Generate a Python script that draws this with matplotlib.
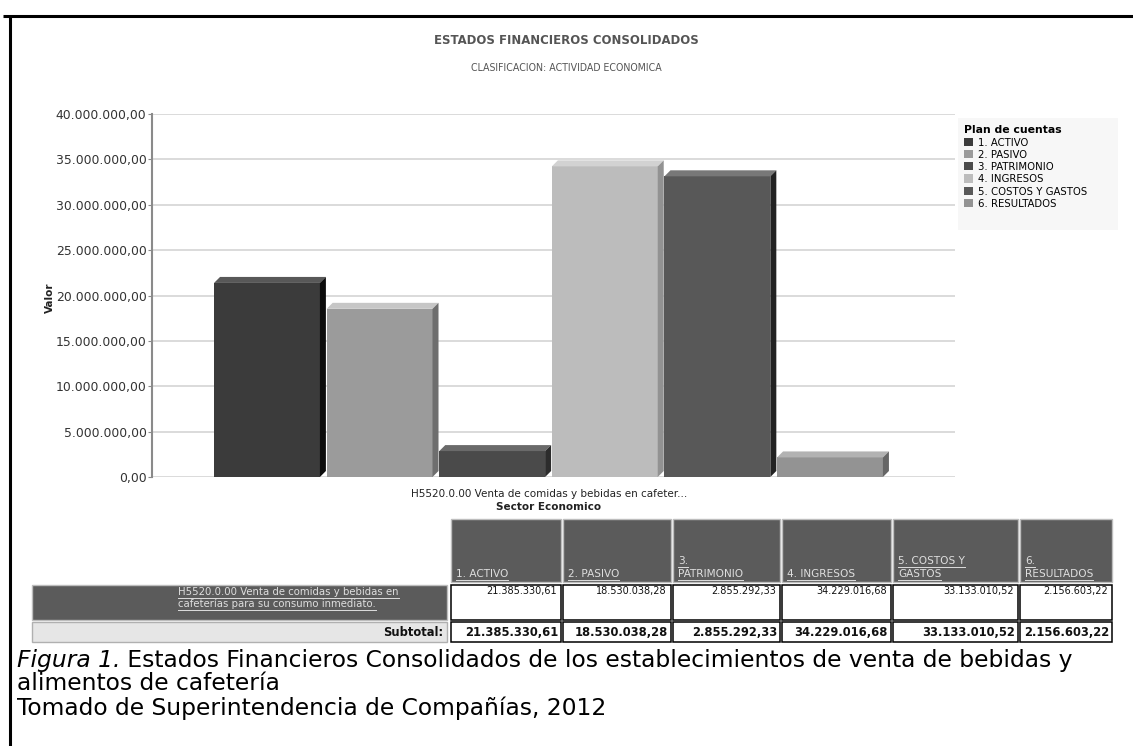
import matplotlib
matplotlib.use("Agg")
import matplotlib.pyplot as plt
from matplotlib.patches import Patch, Polygon, Rectangle
from matplotlib.ticker import FuncFormatter, MultipleLocator

# Datos (Superintendencia de Compañías, 2012)
cuentas = ["1. ACTIVO", "2. PASIVO", "3. PATRIMONIO", "4. INGRESOS",
           "5. COSTOS Y GASTOS", "6. RESULTADOS"]
encabezados = ["1. ACTIVO", "2. PASIVO", "3.\nPATRIMONIO", "4. INGRESOS",
               "5. COSTOS Y\nGASTOS", "6.\nRESULTADOS"]
valores = [21385330.61, 18530038.28, 2855292.33, 34229016.68,
           33133010.52, 2156603.22]
sector = "H5520.0.00 Venta de comidas y bebidas en cafeterías para su consumo inmediato."
sector_corto = "H5520.0.00 Venta de comidas y bebidas en cafeter..."

c_frente = ["#3b3b3b", "#9b9b9b", "#4a4a4a", "#bcbcbc", "#585858", "#939393"]
c_lado = ["#0c0c0c", "#6e6e6e", "#2c2c2c", "#929292", "#222222", "#666666"]
c_tapa = ["#585858", "#c6c6c6", "#6a6a6a", "#d2d2d2", "#787878", "#b2b2b2"]

W, H = 1133, 746


def fmt_num(v, pos=None):
    s = f"{v:,.2f}"
    return s.replace(",", "#").replace(".", ",").replace("#", ".")


fig = plt.figure(figsize=(W / 100, H / 100), dpi=100)
fig.patch.set_facecolor("white")

# capa en pixeles para marco, tabla y pie
lay = fig.add_axes([0, 0, 1, 1])
lay.set_xlim(0, W)
lay.set_ylim(H, 0)
lay.axis("off")

lay.plot([3, W], [16, 16], color="black", lw=2.2, solid_capstyle="butt")
lay.plot([10, 10], [16, H], color="black", lw=2.2, solid_capstyle="butt")

lay.text(566, 40, "ESTADOS FINANCIEROS CONSOLIDADOS", ha="center", va="center",
         fontsize=9.4, fontweight="bold", color="#555555", fontstretch="condensed")
lay.text(566, 68, "CLASIFICACION: ACTIVIDAD ECONOMICA", ha="center", va="center",
         fontsize=7.6, color="#555555", fontstretch="condensed")

# grafico de barras
ax = fig.add_axes([152 / W, (H - 477) / H, (955 - 152) / W, (477 - 114) / H])
ax.set_zorder(2)
ax.patch.set_alpha(0)
n = len(valores)
xs = list(range(n))
ancho = 0.94
ax.set_xlim(-1.021, 6.11)
ax.set_ylim(0, 40000000)
ax.yaxis.set_major_locator(MultipleLocator(5000000))
ax.yaxis.set_major_formatter(FuncFormatter(fmt_num))
ax.grid(axis="y", color="#dadada", lw=1.4)
ax.set_axisbelow(True)
for s in ["top", "right", "bottom"]:
    ax.spines[s].set_visible(False)
ax.spines["left"].set_color("#8a8a8a")
ax.spines["left"].set_linewidth(1.5)
ax.tick_params(axis="y", length=3, color="#8a8a8a", labelsize=8.9,
               labelcolor="#333333", pad=1)
ax.tick_params(axis="x", bottom=False, labelbottom=False)

ax.bar(xs, valores, width=ancho, color=c_frente, zorder=3)

# efecto 3D: profundidad en pixeles convertida a datos
fig.canvas.draw()
(x0p, y0p), (x1p, y1p) = ax.transData.transform([(0, 0), (1, 1e6)])
dx = 6 / (x1p - x0p)
dy = 6 / (y1p - y0p) * 1e6
for i, v in enumerate(valores):
    l, r = xs[i] - ancho / 2, xs[i] + ancho / 2
    ax.add_patch(Polygon([(l, v), (l + dx, v + dy), (r + dx, v + dy), (r, v)],
                         closed=True, facecolor=c_tapa[i], edgecolor="none", zorder=3))
    ax.add_patch(Polygon([(r, 0), (r + dx, dy), (r + dx, v + dy), (r, v)],
                         closed=True, facecolor=c_lado[i], edgecolor="none", zorder=3))

lay.text(50, 298, "Valor", rotation=90, ha="center", va="center",
         fontsize=7.5, fontweight="bold", color="#222222")
lay.text(549, 494, sector_corto, ha="center", va="center", fontsize=7.5,
         color="#222222")
lay.text(549, 507, "Sector Economico", ha="center", va="center", fontsize=7.5,
         fontweight="bold", color="#222222")

# leyenda con fondo gris claro
lay.add_patch(Rectangle((958, 118), 160, 112, facecolor="#f7f7f7",
                        edgecolor="none"))
leg = fig.legend(handles=[Patch(facecolor=c) for c in c_frente], labels=cuentas,
                 title="Plan de cuentas", loc="upper left",
                 bbox_to_anchor=(962 / W, 1 - 123 / H),
                 title_fontproperties={"size": 7.8, "weight": "bold"},
                 prop={"size": 8.1, "stretch": "condensed"},
                 alignment="left", frameon=False,
                 handlelength=0.75, handleheight=0.75, handletextpad=0.45,
                 labelspacing=0.2, borderpad=0.2, borderaxespad=0)

# tabla
rend = fig.canvas.get_renderer()


def subrayar(t, color):
    bb = t.get_window_extent(rend)
    y = H - bb.y0 + 1
    lay.plot([bb.x0, bb.x1], [y, y], color=color, lw=0.7)


def celda(x0, y0, x1, y1, face, edge, lw=1.0):
    lay.add_patch(Rectangle((x0, y0), x1 - x0, y1 - y0, facecolor=face,
                            edgecolor=edge, lw=lw))


cols = [(451, 561), (563, 671), (673, 780), (782, 891), (893, 1018), (1020, 1112)]
gris = "#5b5b5b"
claro = "#dedede"

for (a, b), enc in zip(cols, encabezados):
    celda(a, 519, b, 582, gris, "#bdbdbd")
    lineas = enc.split("\n")
    for k, ln in enumerate(reversed(lineas)):
        t = lay.text(a + 5, 577 - 13 * k, ln, ha="left", va="baseline",
                     fontsize=7.6, color=claro)
        subrayar(t, claro)

celda(32, 585, 447, 620, gris, "#bdbdbd")
pal = sector.split(" ")
for k, ln in enumerate([" ".join(pal[:7]), " ".join(pal[7:])]):
    t = lay.text(178, 595 + 12 * k, ln, ha="left", va="baseline",
                 fontsize=7.3, color=claro)
    subrayar(t, claro)

celda(32, 622, 447, 642, "#e6e6e6", "#b0b0b0")
lay.text(443, 632, "Subtotal:", ha="right", va="center", fontsize=8.3,
         fontweight="bold", color="#111111")

for (a, b), v in zip(cols, valores):
    celda(a, 585, b, 620, "white", "black", 1.1)
    lay.text(b - 4, 591, fmt_num(v), ha="right", va="center", fontsize=7,
             color="#111111")
    celda(a, 622, b, 642, "white", "black", 1.1)
    lay.text(b - 3, 632, fmt_num(v), ha="right", va="center", fontsize=8.3,
             fontweight="bold", color="#111111")

# pie de figura
fam = "DejaVu Sans"
tam = 16.8
t = lay.text(17, 660, "Figura 1.", ha="left", va="center", fontsize=tam,
             style="italic", family=fam)
bb = t.get_window_extent(rend)
lay.text(bb.x1, 660, " Estados Financieros Consolidados de los establecimientos de venta de bebidas y",
         ha="left", va="center", fontsize=tam, family=fam)
lay.text(17, 684, "alimentos de cafetería", ha="left", va="center",
         fontsize=tam, family=fam)
lay.text(17, 708, "Tomado de Superintendencia de Compañías, 2012", ha="left",
         va="center", fontsize=tam, family=fam)

fig.savefig("out.png", dpi=100)
